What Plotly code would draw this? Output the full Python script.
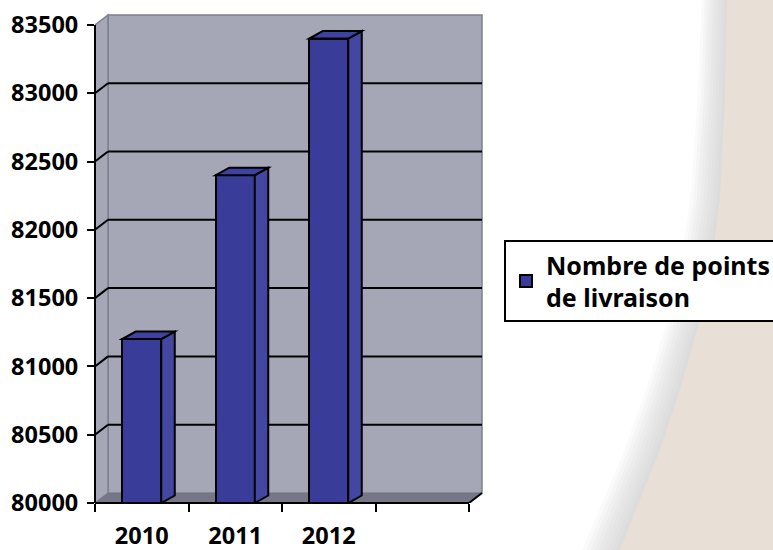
import plotly.graph_objects as go

# ---------------- data ----------------
years = ["2010", "2011", "2012"]
values = [81200, 82400, 83400]
y_tick_vals = [80000, 80500, 81000, 81500, 82000, 82500, 83000, 83500]
y_tick_text = ["80000", "80500", "81000", "81500", "82000", "82500", "83000", "83500"]
series_name = "Nombre de points<br>de livraison"

# ---------------- geometry / style ----------------
W_PX, H_PX = 773, 550
L, T, B = 95, 10, 503            # plot left, top, bottom (pixels)
CAT_PX = 93.5                    # pixels per category slot
N_SLOTS = 4                      # 3 years + 1 empty slot
Y0, Y1 = 80000, 83500
PX_PER_UNIT = 68.3 / 500
XMAX = N_SLOTS + 14 / CAT_PX
PLOT_W = XMAX * CAT_PX
PLOT_H = B - T
YMAX = Y0 + PLOT_H / PX_PER_UNIT
R = W_PX - L - PLOT_W
BM = H_PX - B

WDX, WDY = 13 / CAT_PX, 10 / PX_PER_UNIT      # wall depth
BDX, BDY = 13.5 / CAT_PX, 7.5 / PX_PER_UNIT   # bar depth
BAR_W = 39 / CAT_PX

WALL = "#A5A7B7"
FLOOR = "#757786"
EDGE = "#7E8090"
FRONT = "#393C98"
SIDE = "#4347A2"
TOP = "#3E42A0"
BEIGE = "#E8E0D6"
FONT = "Noto Sans"

xpos = [i + 0.5 for i in range(len(years))]


def poly(pts, **kw):
    path = "M " + " L ".join(f"{x},{y}" for x, y in pts) + " Z"
    return dict(type="path", path=path, **kw)


def paper(px, py):
    return ((px - L) / PLOT_W, (B - py) / PLOT_H)


shapes = []

# ---- page background: shadowed beige curve on the right ----
curve = [(728, -10), (727, 0), (725, 100), (720, 200), (712, 260), (700, 320),
         (680, 390), (660, 450), (640, 500), (620, 550), (615, 560)]
for k in range(9, 0, -1):
    s = 2.8 * k
    pts = [paper(x - s * (1 + y / 550 * 0.5), y) for x, y in curve]
    pts += [paper(800, 560), paper(800, -10)]
    shapes.append(poly(pts, xref="paper", yref="paper",
                       fillcolor="rgba(195,195,195,0.09)", line=dict(width=0), layer="below"))
pts = [paper(x, y) for x, y in curve] + [paper(800, 560), paper(800, -10)]
shapes.append(poly(pts, xref="paper", yref="paper", fillcolor=BEIGE,
                   line=dict(width=0), layer="below"))

# ---- walls & floor ----
shapes.append(dict(type="rect", xref="x", yref="y", x0=WDX, x1=N_SLOTS + WDX,
                   y0=Y0 + WDY, y1=Y1 + WDY, fillcolor=WALL,
                   line=dict(color=EDGE, width=1.5), layer="below"))
shapes.append(poly([(0, Y0), (0, Y1), (WDX, Y1 + WDY), (WDX, Y0 + WDY)],
                   xref="x", yref="y", fillcolor=WALL,
                   line=dict(color=EDGE, width=1.5), layer="below"))
shapes.append(poly([(0, Y0), (N_SLOTS, Y0), (N_SLOTS + WDX, Y0 + WDY), (WDX, Y0 + WDY)],
                   xref="x", yref="y", fillcolor=FLOOR,
                   line=dict(width=0), layer="below"))
# gridlines on back wall + side wall diagonals
for v in y_tick_vals[1:-1]:
    shapes.append(dict(type="line", xref="x", yref="y", x0=WDX, x1=N_SLOTS + WDX,
                       y0=v + WDY, y1=v + WDY, line=dict(color="black", width=2), layer="below"))
    shapes.append(dict(type="line", xref="x", yref="y", x0=0, x1=WDX,
                       y0=v, y1=v + WDY, line=dict(color="black", width=2), layer="below"))

# ---- bar side and top faces ----
for xc, v in zip(xpos, values):
    xl, xr = xc - BAR_W / 2, xc + BAR_W / 2
    shapes.append(poly([(xr, Y0), (xr, v), (xr + BDX, v + BDY), (xr + BDX, Y0 + BDY)],
                       xref="x", yref="y", fillcolor=SIDE,
                       line=dict(color="black", width=2), layer="above"))
    shapes.append(poly([(xl, v), (xr, v), (xr + BDX, v + BDY), (xl + BDX, v + BDY)],
                       xref="x", yref="y", fillcolor=TOP,
                       line=dict(color="black", width=2), layer="above"))

# ---- front axis lines ----
shapes.append(dict(type="line", xref="paper", yref="y", x0=0, x1=0, y0=Y0, y1=Y1,
                   line=dict(color="black", width=2), layer="above"))
shapes.append(dict(type="line", xref="x", yref="paper", x0=0, x1=N_SLOTS, y0=0, y1=0,
                   line=dict(color="black", width=2), layer="above"))
shapes.append(dict(type="line", xref="x", yref="y", x0=N_SLOTS, x1=N_SLOTS + WDX,
                   y0=Y0, y1=Y0 + WDY, line=dict(color="black", width=2), layer="above"))

fig = go.Figure()
fig.add_trace(go.Bar(
    x=xpos, y=[v - Y0 for v in values], base=Y0, width=BAR_W,
    name=series_name, showlegend=True,
    marker=dict(color=FRONT, line=dict(color="black", width=2)),
))

lx, ly = paper(504, 240)
fig.update_layout(
    width=W_PX, height=H_PX,
    margin=dict(l=L, r=R, t=T, b=BM, pad=0, autoexpand=False),
    paper_bgcolor="white", plot_bgcolor="rgba(0,0,0,0)",
    shapes=shapes,
    showlegend=True,
    legend=dict(x=lx, y=ly, xanchor="left", yanchor="top",
                bgcolor="white", bordercolor="black", borderwidth=2,
                font=dict(family=FONT, size=25, color="black", weight="bold")),
    xaxis=dict(type="linear", range=[0, XMAX], tickvals=xpos, ticktext=years,
               ticks="", showgrid=False, zeroline=False, showline=False,
               automargin=False, ticklabelstandoff=16,
               tickfont=dict(family=FONT, size=23.5, color="black", weight="bold"),
               minor=dict(tickvals=list(range(N_SLOTS + 1)), ticks="outside",
                          ticklen=8, tickwidth=2, tickcolor="black", showgrid=False)),
    yaxis=dict(range=[Y0, YMAX], tickvals=y_tick_vals, ticktext=y_tick_text,
               ticks="outside", ticklen=7, tickwidth=2, tickcolor="black",
               showgrid=False, zeroline=False, showline=False,
               automargin=False, ticklabelstandoff=4,
               tickfont=dict(family=FONT, size=23.5, color="black", weight="bold")),
    bargap=0,
)

fig.write_html("out.html", config={"displayModeBar": False},
               post_script="document.body.style.margin='0';")
